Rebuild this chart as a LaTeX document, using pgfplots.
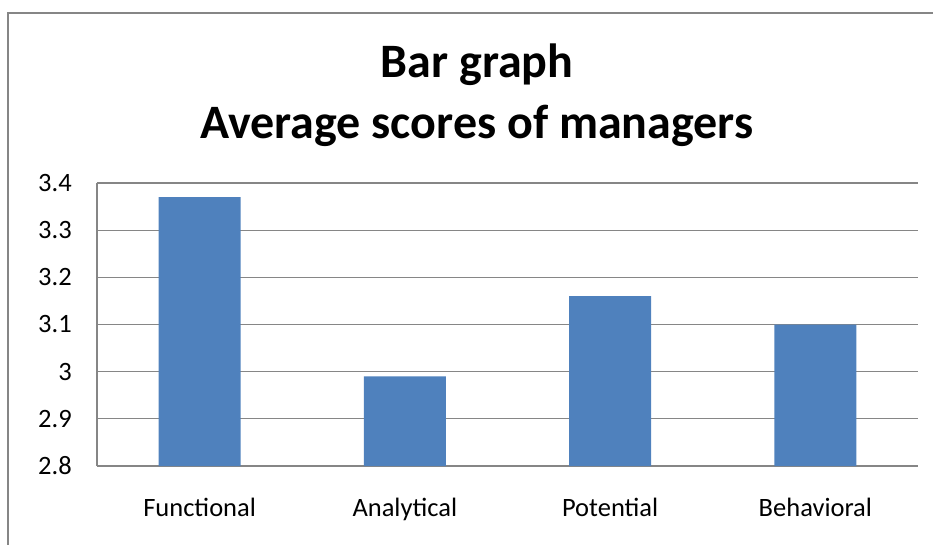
\documentclass[border=0pt]{standalone}
\usepackage{pgfplots}
\pgfplotsset{compat=1.18}
\usepackage{fontspec}
\setmainfont{Carlito}
\definecolor{barblue}{HTML}{4F81BD}
\definecolor{axgray}{HTML}{868686}
\begin{document}
\begin{tikzpicture}[x=1pt,y=1pt]
\useasboundingbox (-97,-78) rectangle (836,466);
\begin{axis}[
  at={(0,0)}, anchor=south west,
  scale only axis, width=821pt, height=283pt,
  xmin=-0.5, xmax=3.5, ymin=2.8, ymax=3.4,
  enlargelimits=false,
  ytick={2.8,2.9,3.0,3.1,3.2,3.3,3.4},
  yticklabels={2.8,2.9,3,3.1,3.2,3.3,3.4},
  xtick={0,1,2,3},
  xticklabels={Functional,Analytical,Potential,Behavioral},
  ymajorgrids,
  grid style={axgray, line width=1.3pt},
  axis lines*=left,
  axis line style={-, axgray, line width=1.3pt},
  major tick length=0pt,
  tick style={draw=none},
  tick label style={font=\fontsize{26.5}{30}\selectfont, text=black},
  yticklabel style={anchor=east, inner sep=0pt, xshift=-25pt},
  xticklabel style={anchor=base, inner sep=0pt, yshift=-50pt},
  /pgf/number format/assume math mode=true,
]
\addplot[ybar, fill=barblue, draw=none, bar width=82pt] coordinates {(0,3.37) (1,2.99) (2,3.16) (3,3.10)};
\end{axis}
\begin{scope}
\clip (-97,-78) rectangle (836,466);
\draw[axgray, line width=1.6pt] (-89,-200) -- (-89,453) -- (1100,453);
\end{scope}
\node[anchor=base, inner sep=0pt, font=\bfseries\fontsize{48}{54}\selectfont] at (380,388) {Bar graph};
\node[anchor=base, inner sep=0pt, font=\bfseries\fontsize{48}{54}\selectfont] at (380,327) {Average scores of managers};
\end{tikzpicture}
\end{document}
